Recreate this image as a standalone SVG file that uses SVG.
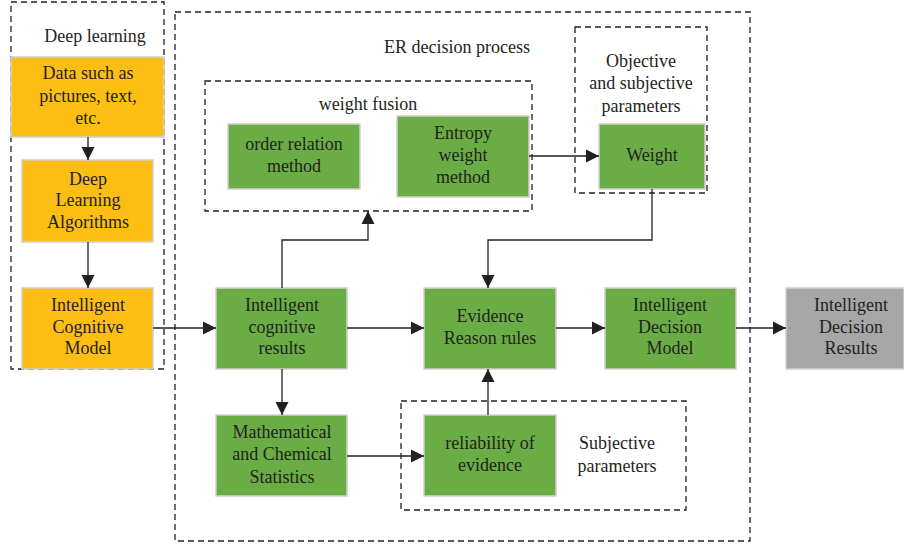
<svg xmlns="http://www.w3.org/2000/svg" width="904" height="548" viewBox="0 0 904 548">
<defs>
<marker id="ah" markerWidth="14" markerHeight="14" refX="13" refY="7" orient="auto" markerUnits="userSpaceOnUse">
<path d="M0,0.5 L13,7 L0,13.5 Z" fill="#231F20"/>
</marker>
<style>
.dash{fill:none;stroke:#231F20;stroke-width:1.3;stroke-dasharray:6,4}
.y{fill:#FCBE13;stroke:#D0D0D0;stroke-width:1.5}
.g{fill:#6AAD45;stroke:#D0D0D0;stroke-width:1.5}
.gr{fill:#A6A6A6;stroke:#D0D0D0;stroke-width:1.5}
text{font-family:"Liberation Serif","DejaVu Serif",serif;font-size:18px;fill:#231F20;text-anchor:middle}
.c{fill:none;stroke:#231F20;stroke-width:1.3}
</style>
</defs>
<g id="groups">
<rect class="dash" x="11" y="2" width="153" height="367"/>
<text x="95" y="42">Deep learning</text>
<rect class="dash" x="175" y="12" width="575" height="529"/>
<text x="457" y="53">ER decision process</text>
<rect class="dash" x="205" y="81" width="327" height="130"/>
<text x="368" y="110">weight fusion</text>
<rect class="dash" x="575" y="27" width="132" height="166"/>
<text x="641" y="67">Objective</text>
<text x="641" y="89">and subjective</text>
<text x="641" y="112">parameters</text>
<rect class="dash" x="401" y="401" width="285" height="109"/>
<text x="617" y="449">Subjective</text>
<text x="617" y="472">parameters</text>
</g>
<g id="n-data"><rect class="y" x="11" y="57" width="153" height="80"/>
<text x="88" y="79">Data such as</text><text x="88" y="102">pictures, text,</text><text x="88" y="124">etc.</text></g>
<g id="n-dla"><rect class="y" x="22" y="160" width="131" height="82"/>
<text x="88" y="185">Deep</text><text x="88" y="206">Learning</text><text x="88" y="228">Algorithms</text></g>
<g id="n-icm"><rect class="y" x="22" y="288" width="131" height="81"/>
<text x="88" y="311">Intelligent</text><text x="88" y="333">Cognitive</text><text x="88" y="354">Model</text></g>
<g id="n-icr"><rect class="g" x="216" y="288" width="131" height="81"/>
<text x="282" y="311">Intelligent</text><text x="282" y="333">cognitive</text><text x="282" y="354">results</text></g>
<g id="n-order"><rect class="g" x="228" y="124" width="132" height="65"/>
<text x="294" y="150">order relation</text><text x="294" y="172">method</text></g>
<g id="n-entropy"><rect class="g" x="397" y="116" width="132" height="81"/>
<text x="463" y="139">Entropy</text><text x="463" y="161">weight</text><text x="463" y="183">method</text></g>
<g id="n-weight"><rect class="g" x="599" y="124" width="106" height="65"/>
<text x="652" y="161">Weight</text></g>
<g id="n-evidence"><rect class="g" x="424" y="288" width="132" height="81"/>
<text x="490" y="322">Evidence</text><text x="490" y="344">Reason rules</text></g>
<g id="n-idm"><rect class="g" x="605" y="288" width="131" height="81"/>
<text x="670" y="311">Intelligent</text><text x="670" y="333">Decision</text><text x="670" y="354">Model</text></g>
<g id="n-idr"><rect class="gr" x="786" y="288" width="118" height="81"/>
<text x="851" y="311">Intelligent</text><text x="851" y="333">Decision</text><text x="851" y="354">Results</text></g>
<g id="n-math"><rect class="g" x="216" y="415" width="131" height="81"/>
<text x="282" y="438">Mathematical</text><text x="282" y="460">and Chemical</text><text x="282" y="483">Statistics</text></g>
<g id="n-rel"><rect class="g" x="424" y="415" width="132" height="81"/>
<text x="490" y="449">reliability of</text><text x="490" y="471">evidence</text></g>
<g id="connectors">
<path class="c" d="M88,137 V160" marker-end="url(#ah)"/>
<path class="c" d="M88,242 V288" marker-end="url(#ah)"/>
<path class="c" d="M153,328 H216" marker-end="url(#ah)"/>
<path class="c" d="M347,328 H424" marker-end="url(#ah)"/>
<path class="c" d="M556,328 H605" marker-end="url(#ah)"/>
<path class="c" d="M736,328 H786" marker-end="url(#ah)"/>
<path class="c" d="M282,288 V240 H368 V211" marker-end="url(#ah)"/>
<path class="c" d="M282,369 V415" marker-end="url(#ah)"/>
<path class="c" d="M529,156 H599" marker-end="url(#ah)"/>
<path class="c" d="M652,189 V240 H488 V288" marker-end="url(#ah)"/>
<path class="c" d="M347,456 H424" marker-end="url(#ah)"/>
<path class="c" d="M488,415 V369" marker-end="url(#ah)"/>
</g>
</svg>
